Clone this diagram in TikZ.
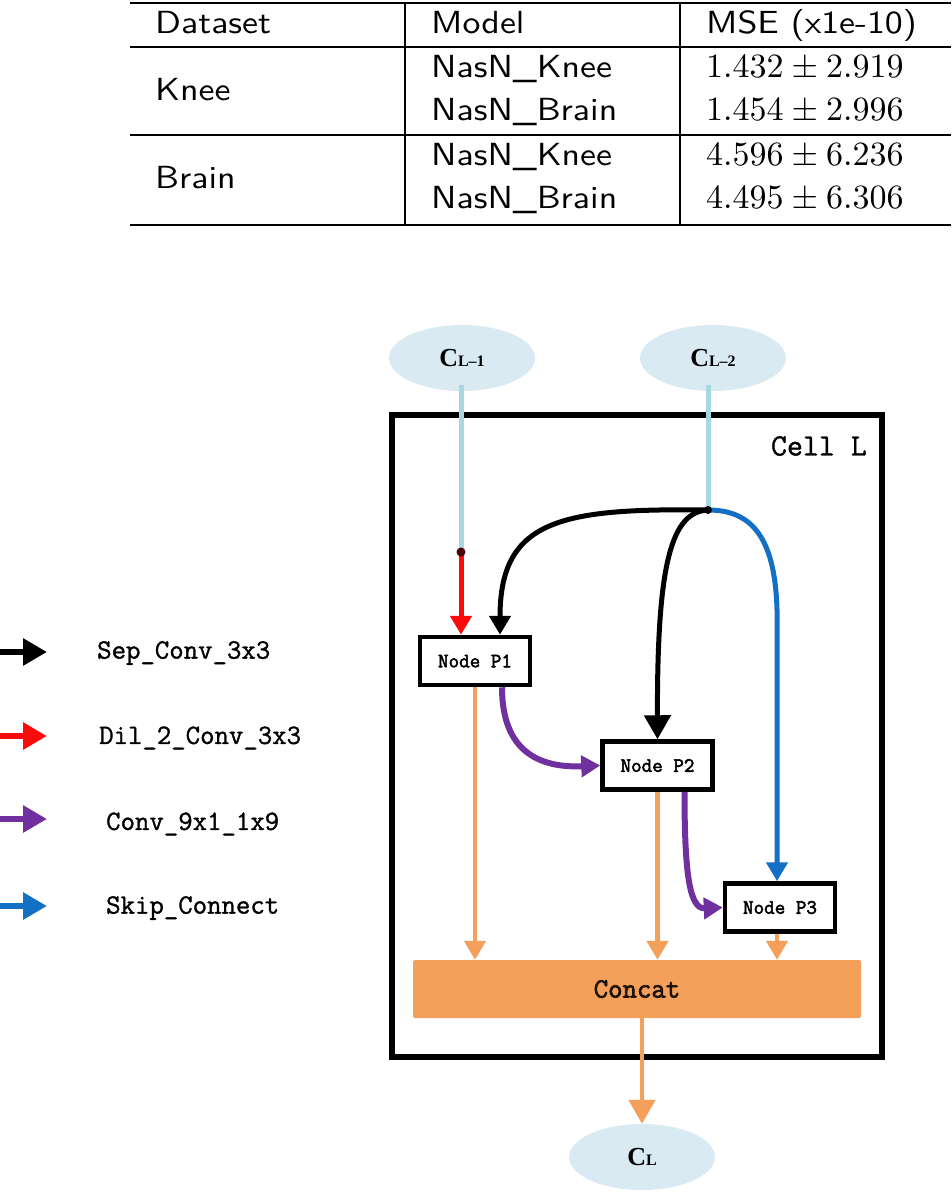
\documentclass[tikz,border=0pt]{standalone}
\usepackage{fontspec}
\newfontfamily\tabsans{lmsans10-regular.otf}[FakeStretch=1.12]
\newfontfamily\tabrm{lmroman10-regular.otf}
\newfontfamily\monof{Latin Modern Mono}[FakeBold=1.2]
\newfontfamily\monob{Latin Modern Mono}[FakeBold=2.5]
\newfontfamily\tserif{Liberation Serif}
\usetikzlibrary{arrows.meta,shapes.geometric,calc}
\definecolor{lblue}{RGB}{168,214,226}
\definecolor{ellfill}{RGB}{218,234,243}
\definecolor{orng}{RGB}{244,160,90}
\definecolor{purp}{RGB}{112,48,160}
\definecolor{bluec}{RGB}{20,112,196}
\definecolor{redc}{RGB}{250,10,10}
\tikzset{
  tabtxt/.style={anchor=base west, inner sep=0pt, font=\tabsans\fontsize{32}{32}\selectfont},
  numtxt/.style={anchor=base west, inner sep=0pt, font=\tabrm\fontsize{34}{34}\selectfont},
  tabrule/.style={line width=1.6pt},
  ellnode/.style={ellipse, fill=ellfill, minimum width=146pt, minimum height=66pt, inner sep=0pt},
  pnode/.style={draw, line width=4.5pt, fill=white, minimum width=110pt, minimum height=48pt, inner sep=0pt, font=\monob\fontsize{20.5}{20.5}\selectfont},
  legtxt/.style={anchor=west, inner sep=0pt, font=\monof\fontsize{28}{28}\selectfont},
  conn/.style={line width=5pt},
  orconn/.style={line width=4.6pt, orng},
  tipA/.style={-{Triangle[width=26pt,length=24pt]}},
  tipB/.style={-{Triangle[width=21pt,length=19pt]}},
}
\newcommand{\cellname}[2]{{\tserif\bfseries\fontsize{26}{26}\selectfont #1}{\tserif\bfseries\fontsize{16}{16}\selectfont #2}}
\begin{document}
\begin{tikzpicture}[x=1pt,y=-1pt]
\useasboundingbox (0,0) rectangle (951,1202);
% ---------------- table ----------------
\draw[line width=2.2pt] (130,3) -- (951,3);
\draw[tabrule] (130,47) -- (951,47);
\draw[tabrule] (130,135) -- (951,135);
\draw[line width=2.2pt] (130,225) -- (951,225);
\draw[tabrule] (405,3) -- (405,225);
\draw[tabrule] (680,3) -- (680,225);
\node[tabtxt] (h1) at (155,33) {Dataset};
\node[tabtxt] (h2) at (431,33) {Model};
\node[tabtxt] (h3) at (706,33) {MSE (x1e-10)};
\node[tabtxt] (d1) at (155,100) {Knee};
\node[tabtxt] (d2) at (155,188) {Brain};
\node[tabtxt] (m1) at (431,77) {NasN\_Knee};
\node[tabtxt] (m2) at (431,120) {NasN\_Brain};
\node[tabtxt] (m3) at (431,165) {NasN\_Knee};
\node[tabtxt] (m4) at (431,208) {NasN\_Brain};
\node[numtxt] (v1) at (706,77) {1.432\hspace{8pt}±\hspace{8pt}2.919};
\node[numtxt] (v2) at (706,120) {1.454\hspace{8pt}±\hspace{8pt}2.996};
\node[numtxt] (v3) at (706,165) {4.596\hspace{8pt}±\hspace{8pt}6.236};
\node[numtxt] (v4) at (706,208) {4.495\hspace{8pt}±\hspace{8pt}6.306};
% ---------------- legend ----------------
\draw[conn,line width=6.5pt,tipA,black] (0,652) -- (47,652);
\draw[conn,line width=6.5pt,tipA,redc] (0,736) -- (47,736);
\draw[conn,line width=6.5pt,tipA,purp] (0,819) -- (47,819);
\draw[conn,line width=6.5pt,tipA,bluec] (0,906) -- (47,906);
\node[legtxt] (l1) at (97,653) {Sep\_Conv\_3x3};
\node[legtxt] (l2) at (99,738) {Dil\_2\_Conv\_3x3};
\node[legtxt] (l3) at (106,824) {Conv\_9x1\_1x9};
\node[legtxt] (l4) at (106,908) {Skip\_Connect};
% ---------------- cell ----------------
\draw[line width=6pt] (392,415) rectangle (882,1057);
\node[anchor=east, inner sep=0pt, font=\monof\fontsize{31}{31}\selectfont] (cellL) at (867,446) {Cell L};
\node[ellnode] (c1) at (462,358) {\cellname{C}{L–1}};
\node[ellnode] (c2) at (713,358) {\cellname{C}{L–2}};
\node[ellnode] (cl) at (642,1157) {\cellname{C}{L}};
\node[pnode] (p1) at (475,661) {Node P1};
\node[pnode] (p2) at (657.5,765.5) {Node P2};
\node[pnode] (p3) at (780,907.5) {Node P3};
\node[fill=orng, rounded corners=2pt, minimum width=448pt, minimum height=58pt, inner sep=0pt,
      font=\monob\fontsize{28}{28}\selectfont, text=black!85!brown] (concat) at (637,989) {Concat};
\coordinate (d1c) at (461,552);
\coordinate (j) at (708,510);
% light blue inputs
\draw[conn,lblue] ([yshift=6pt]c1.south -| d1c) -- (d1c);
\draw[conn,lblue] ([yshift=6pt]c2.south -| j) -- (j);
% red
\draw[conn,redc,tipB] (d1c) -- (p1.north -| d1c);
\fill[black!70!red] (d1c) circle (4.5pt);
% black
\draw[conn,black,tipB] (j) .. controls (560,508) and (500,520) .. ([xshift=25pt]p1.north);
\draw[conn,black,tipA] (j) .. controls (672,512) and (657,560) .. (p2.north);
% blue skip
\draw[conn,bluec,tipB] (j) .. controls (750,510) and (775,535) .. (777,610) -- (p3.north -| 777,0);
\fill[black] (j) circle (4pt);
% purple
\draw[conn,line width=6pt,purp,tipB] ([xshift=27pt]p1.south) .. controls +(0,65) and (540,768) .. (p2.west);
\draw[conn,line width=6pt,purp,tipB] ([xshift=27pt]p2.south) .. controls +(0,85) and (690,909) .. (p3.west);
% orange
\draw[orconn,tipB] (p1.south) -- (p1.south |- concat.north);
\draw[orconn,tipB] (p2.south) -- (p2.south |- concat.north);
\draw[orconn,tipB] ([xshift=-3pt]p3.south) -- ([xshift=-3pt]p3.south |- concat.north);
\draw[orconn,tipA] (cl.north |- concat.south) -- (cl.north);
\end{tikzpicture}
\end{document}
